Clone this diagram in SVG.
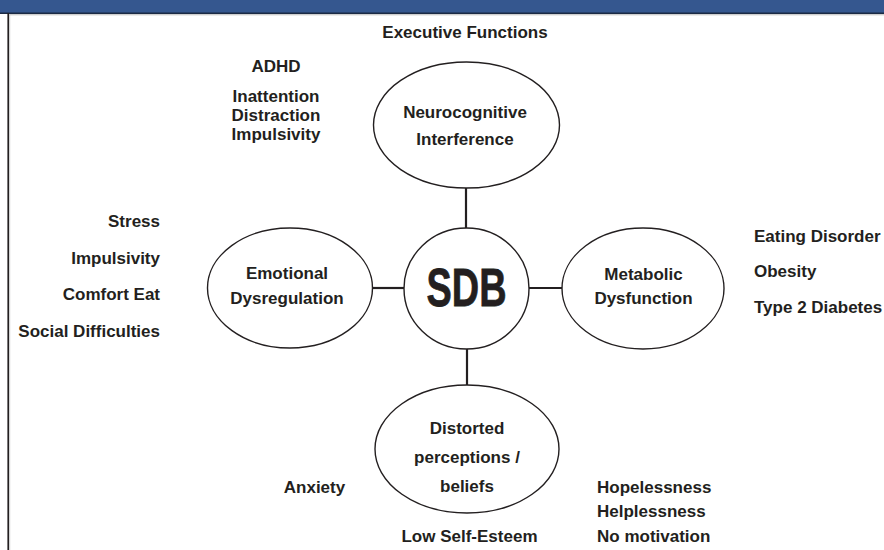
<svg xmlns="http://www.w3.org/2000/svg" width="884" height="550" viewBox="0 0 884 550">
<style>
.t{font-family:"Liberation Sans",Arial,sans-serif;font-weight:bold;font-size:17px;fill:#231f20}
.c{text-anchor:middle}
.r{text-anchor:end}
.node{fill:#fff;stroke:#231f20;stroke-width:1.4}
.conn line{stroke:#231f20;stroke-width:2.2}
</style>
<rect x="0" y="0" width="884" height="550" fill="#fff"/>
<rect x="0" y="0" width="884" height="13" fill="#35578f"/>
<line x1="0" y1="13.2" x2="884" y2="13.2" stroke="#1b2a44" stroke-width="1.6"/>
<line x1="9" y1="14.8" x2="884" y2="14.8" stroke="#bbbbbb" stroke-width="1"/>
<line x1="8.2" y1="13" x2="8.2" y2="550" stroke="#231f20" stroke-width="1.6"/>
<line x1="9.7" y1="15" x2="9.7" y2="550" stroke="#bbbbbb" stroke-width="0.8"/>

<g id="connectors" class="conn">
<line x1="466" y1="188" x2="466" y2="228"/>
<line x1="372" y1="288" x2="404" y2="288"/>
<line x1="529" y1="288" x2="562" y2="288"/>
<line x1="467" y1="349" x2="467" y2="385"/>
</g>

<g id="sdb">
<ellipse class="node" cx="466.5" cy="288.5" rx="62.5" ry="60.5"/>
<text class="t c" x="466.5" y="306" textLength="80" lengthAdjust="spacingAndGlyphs" style="font-size:54px;stroke:#231f20;stroke-width:0.8">SDB</text>
</g>

<g id="neurocognitive">
<ellipse class="node" cx="466.5" cy="125" rx="93" ry="63"/>
<text class="t c" x="465" y="118">Neurocognitive</text>
<text class="t c" x="465" y="145">Interference</text>
</g>

<g id="emotional">
<ellipse class="node" cx="290" cy="288" rx="82.5" ry="60"/>
<text class="t c" x="287" y="279">Emotional</text>
<text class="t c" x="287" y="304">Dysregulation</text>
</g>

<g id="metabolic">
<ellipse class="node" cx="643" cy="288.5" rx="81" ry="60.5"/>
<text class="t c" x="643.5" y="280">Metabolic</text>
<text class="t c" x="643.5" y="304">Dysfunction</text>
</g>

<g id="distorted">
<ellipse class="node" cx="467" cy="449" rx="92" ry="64"/>
<text class="t c" x="467" y="434">Distorted</text>
<text class="t c" x="467" y="463">perceptions /</text>
<text class="t c" x="467" y="492">beliefs</text>
</g>

<g id="labels">
<text class="t c" x="465" y="38">Executive Functions</text>
<text class="t c" x="276" y="72">ADHD</text>
<text class="t c" x="276" y="102">Inattention</text>
<text class="t c" x="276" y="121">Distraction</text>
<text class="t c" x="276" y="140">Impulsivity</text>
<text class="t r" x="160" y="227">Stress</text>
<text class="t r" x="160" y="264">Impulsivity</text>
<text class="t r" x="160" y="300">Comfort Eat</text>
<text class="t r" x="160" y="337">Social Difficulties</text>
<text class="t" x="754" y="242">Eating Disorder</text>
<text class="t" x="754" y="277">Obesity</text>
<text class="t" x="754" y="313">Type 2 Diabetes</text>
<text class="t c" x="314.5" y="493">Anxiety</text>
<text class="t c" x="469.5" y="542">Low Self-Esteem</text>
<text class="t" x="597" y="493">Hopelessness</text>
<text class="t" x="597" y="517">Helplessness</text>
<text class="t" x="597" y="542">No motivation</text>
</g>
</svg>
